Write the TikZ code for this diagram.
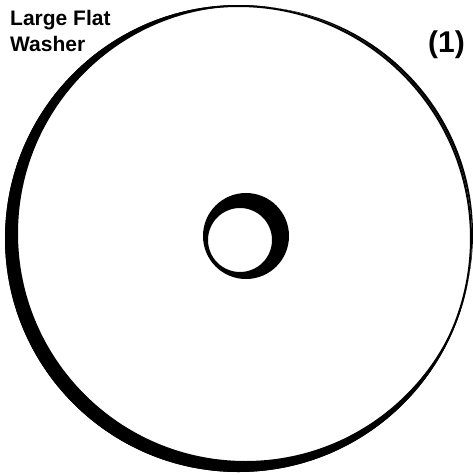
\documentclass[tikz,border=0pt]{standalone}
\usepackage{fontspec}
\setmainfont{Liberation Sans}
\definecolor{inkc}{HTML}{000000}
\definecolor{paperc}{HTML}{FFFFFF}

\begin{document}
\begin{tikzpicture}[x=1pt, y=-1pt]
  \useasboundingbox[fill=paperc] (0,0) rectangle (473,475);
  % outer rim, heavy on the lower left
  \fill[inkc, even odd rule] (238.5,238.5) circle (233.5) (245.5,233.5) circle (227.5);
  \draw[inkc, line width=2] (238.5,238.5) circle (232.5);
  % centre hole, heavy on the upper right
  \fill[inkc, even odd rule] (246,236) circle (43) (240,240) circle (32);
  \node[anchor=north west, inner sep=0, align=left, font=\bfseries\fontsize{21}{26}\selectfont] (washer) at (10,10) {Large Flat\\Washer};
  \node[anchor=north west, inner sep=0, font=\bfseries\fontsize{30}{32}\selectfont] (count) at (428,31) {(1)};
\end{tikzpicture}
\end{document}
